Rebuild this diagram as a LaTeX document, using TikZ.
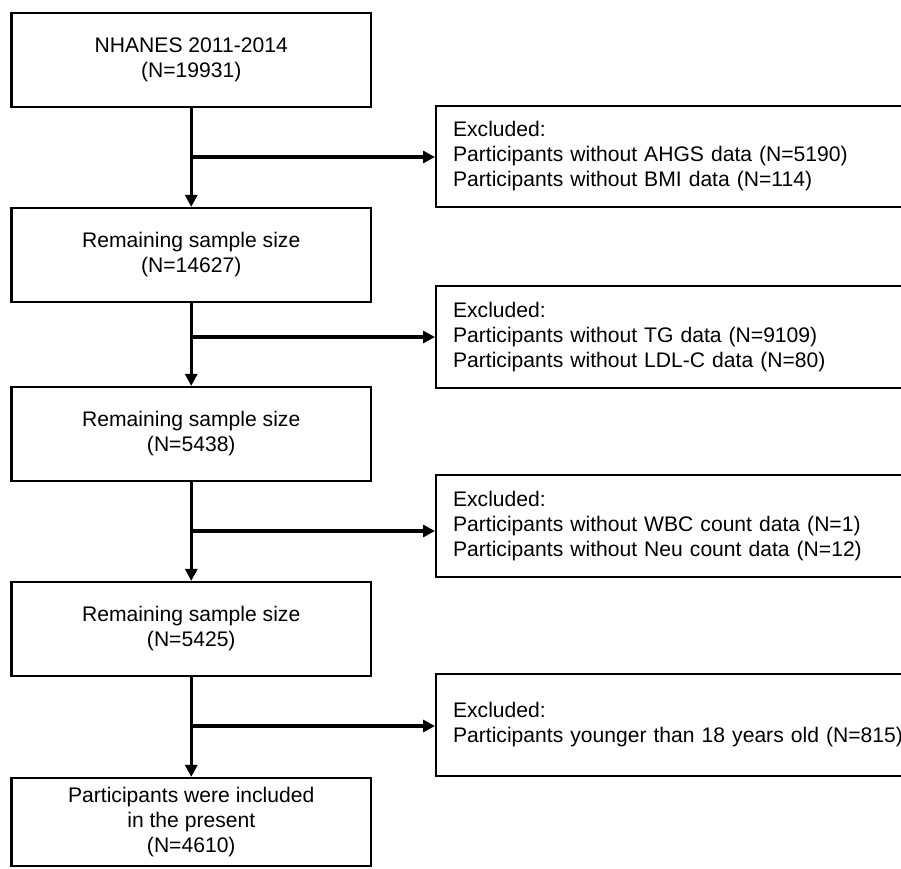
\documentclass[tikz,border=0pt]{standalone}
\usepackage{fontspec}
\setmainfont{Liberation Sans}
\usetikzlibrary{arrows.meta}
\begin{document}
\begin{tikzpicture}[x=1pt,y=-1pt,
  mainbox/.style={draw=black, line width=2.2pt, minimum width=359.5pt, align=center, inner sep=0pt, font=\fontsize{21.1}{25}\selectfont},
  exbox/.style={draw=black, line width=2.2pt, anchor=west, text width=470pt, inner xsep=17pt, inner ysep=0pt, align=left, font=\fontsize{21.1}{25}\selectfont},
  arr/.style={line width=3.4pt, -{Triangle[length=12pt,width=12pt]}}]
\fill[white] (0,0) rectangle (901,868);
\useasboundingbox (0,0) rectangle (901,868);
\begin{scope}
\clip (0,0) rectangle (901,868);
\node[mainbox, minimum height=94.3pt] (b1) at (191.25,59.9) {NHANES 2011-2014\\(N=19931)};
\node[mainbox, minimum height=94pt] (b2) at (191.25,255) {Remaining sample size\\(N=14627)};
\node[mainbox, minimum height=94pt] (b3) at (191.25,434) {Remaining sample size\\(N=5438)};
\node[mainbox, minimum height=94pt] (b4) at (191.25,629) {Remaining sample size\\(N=5425)};
\node[mainbox, minimum height=88pt] (b5) at (191.25,822) {Participants were included\\in the present\\(N=4610)};

\node[exbox, minimum height=101pt] (r1) at (435,156.5) {Excluded:\\Participants without AHGS data (N=5190)\\Participants without BMI data (N=114)};
\node[exbox, minimum height=102pt] (r2) at (435,337) {Excluded:\\Participants without TG data (N=9109)\\Participants without LDL-C data (N=80)};
\node[exbox, minimum height=102pt] (r3) at (435,526) {Excluded:\\Participants without WBC count data (N=1)\\Participants without Neu count data (N=12)};
\node[exbox, minimum height=102pt] (r4) at (435,725) {Excluded:\\Participants younger than 18 years old (N=815)};
\end{scope}

\coordinate (j1) at (191.25,157);
\coordinate (j2) at (191.25,337);
\coordinate (j3) at (191.25,531);
\coordinate (j4) at (191.25,726);

\draw[arr] (b1.south) -- (b2.north);
\draw[arr] (b2.south) -- (b3.north);
\draw[arr] (b3.south) -- (b4.north);
\draw[arr] (b4.south) -- (b5.north);

\draw[arr] (j1) -- (j1 -| r1.west);
\draw[arr] (j2) -- (j2 -| r2.west);
\draw[arr] (j3) -- (j3 -| r3.west);
\draw[arr] (j4) -- (j4 -| r4.west);
\end{tikzpicture}
\end{document}
